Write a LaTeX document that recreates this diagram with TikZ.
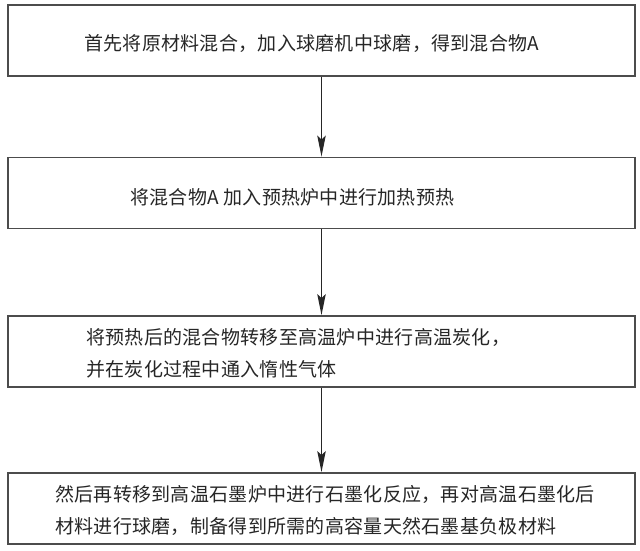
\documentclass[tikz,border=0pt]{standalone}
\usepackage{fontspec}
\newfontfamily\cjk[LetterSpace=1.5]{Noto Sans CJK SC}
\usepackage{tikz}
\usetikzlibrary{arrows.meta}
\usetikzlibrary{positioning}

\begin{document}
\begin{tikzpicture}
	[x=1pt,y=-1pt,every node/.style={font=\cjk\fontsize{19}{32}\selectfont,text=black!85,inner sep=0pt},
	 stepbox/.style={draw=black!70,line width=1.8pt,minimum width=627pt,minimum height=71pt},
	 steptext/.style={anchor=west,align=left}]
	\useasboundingbox (0,0) rectangle (640,550);
	\node[stepbox] (s1) at (321.5,40.5) {};
	\node[stepbox] (s2) at (321.5,193)  {};
	\node[stepbox] (s3) at (321.5,351.5) {};
	\node[stepbox] (s4) at (321.5,508.5) {};
	
	\node[steptext] (t1) at (84,43)  {首先将原材料混合，加入球磨机中球磨，得到混合物A};
	\node[steptext] (t2) at (130,197) {将混合物A 加入预热炉中进行加热预热};
	\node[steptext] (t3) at (86,353)  {将预热后的混合物转移至高温炉中进行高温炭化，\\并在炭化过程中通入惰性气体};
	\node[steptext] (t4) at (55,510)  {然后再转移到高温石墨炉中进行石墨化反应，再对高温石墨化后\\材料进行球磨，制备得到所需的高容量天然石墨基负极材料};
	
	\foreach \from/\to in 
	{s1/s2, s2/s3, s3/s4}
	\draw[line width=1.3pt,black!85,-{Stealth[length=21pt,width=8.5pt,inset=4pt]}] (\from) -- (\to);
	\end{tikzpicture}
\end{document}
